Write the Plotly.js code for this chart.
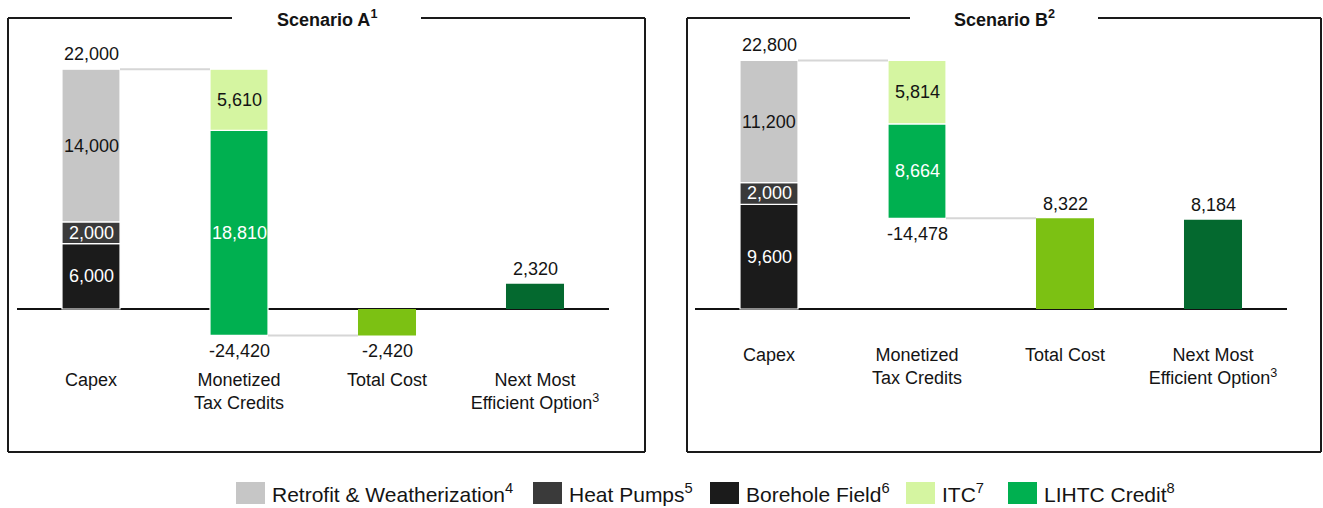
<!DOCTYPE html>
<html><head><meta charset="utf-8">
<script src="https://cdn.plot.ly/plotly-3.0.1.min.js"></script>
<style>html,body{margin:0;padding:0;background:#fff;}#chart{width:1323px;height:508px;}</style>
</head><body><div id="chart"></div>
<script>
// ---------------- data ----------------
const categories = ["Capex", "Monetized<br>Tax Credits", "Total Cost", "Next Most<br>Efficient Option<sup>3</sup>"];
const scenarioNames = ["Scenario A", "Scenario B"];
const scenarioNotes = [1, 2];
const capexSeries = ["Borehole Field", "Heat Pumps", "Retrofit & Weatherization"];
const creditSeries = ["LIHTC Credit", "ITC"];
const legendSeries = ["Retrofit & Weatherization", "Heat Pumps", "Borehole Field", "ITC", "LIHTC Credit"];
const legendNotes = [4, 5, 6, 7, 8];
const capexA = [6000, 2000, 14000];
const creditsA = [18810, 5610];
const totalA = -2420;
const nextA = 2320;
const capexB = [9600, 2000, 11200];
const creditsB = [8664, 5814];
const totalB = 8322;
const nextB = 8184;

// ---------------- styles ----------------
const FONT = "Liberation Sans, Arial, Helvetica, sans-serif";
const TXT = "#141414";
const colors = {
  "Retrofit & Weatherization": "#c6c6c6",
  "Heat Pumps": "#3a3a3a",
  "Borehole Field": "#1b1b1b",
  "ITC": "#d5f5a1",
  "LIHTC Credit": "#00b050"
};
const insideText = {
  "Retrofit & Weatherization": TXT,
  "Heat Pumps": "#ffffff",
  "Borehole Field": "#ffffff",
  "ITC": TXT,
  "LIHTC Credit": "#ffffff"
};
const totalColor = "#7cc113";
const nextColor = "#04692f";
const connColor = "#d6d6d6";
const W = 0.392;
const W_PX = 1323, H_PX = 508;
const fmt = v => v.toLocaleString("en-US");
const sum = a => a.reduce((s, v) => s + v, 0);

const annotations = [];
function label(xa, ya, x, y, v, color, shift) {
  annotations.push({xref: xa, yref: ya, x: x, y: y, text: fmt(v), showarrow: false,
    xanchor: "center", yanchor: "middle", yshift: shift,
    font: {family: FONT, size: 18, color: color}});
}

function panel(capex, credits, total, next, xa, ya) {
  const t = [];
  const common = {xaxis: xa, yaxis: ya, hoverinfo: "skip", showlegend: false};
  const xr = xa, yr = ya;
  let base = 0;
  capex.forEach((v, i) => {
    const name = capexSeries[i];
    t.push(Object.assign({type: "bar", name: name, x: [0], y: [v], base: [base], width: W,
      marker: {color: colors[name], line: {color: "#ffffff", width: 1.2}}}, common));
    label(xr, yr, 0, base + v / 2, v, insideText[name], 0);
    base += v;
  });
  const capexTotal = base;
  const creditTotal = sum(credits);
  let cb = capexTotal - creditTotal;
  credits.forEach((v, i) => {
    const name = creditSeries[i];
    t.push(Object.assign({type: "bar", name: name, x: [1], y: [v], base: [cb], width: W,
      marker: {color: colors[name], line: {color: "#ffffff", width: 1.2}}}, common));
    label(xr, yr, 1, cb + v / 2, v, insideText[name], 0);
    cb += v;
  });
  t.push(Object.assign({type: "bar", name: "Total Cost", x: [2], y: [total], width: W,
    marker: {color: totalColor, line: {width: 0}}}, common));
  t.push(Object.assign({type: "bar", name: "Next Most Efficient Option", x: [3], y: [next], width: W,
    marker: {color: nextColor, line: {width: 0}}}, common));
  // connectors
  t.push(Object.assign({type: "scatter", mode: "lines", x: [W / 2, 1 - W / 2], y: [capexTotal, capexTotal],
    line: {color: connColor, width: 2}}, common));
  t.push(Object.assign({type: "scatter", mode: "lines", x: [1 + W / 2, 2 - W / 2], y: [total, total],
    line: {color: connColor, width: 2}}, common));
  // outside labels
  label(xr, yr, 0, capexTotal, capexTotal, TXT, 15);
  label(xr, yr, 1, capexTotal - creditTotal, -creditTotal, TXT, -16);
  label(xr, yr, 2, total, total, TXT, total < 0 ? -16 : 14);
  label(xr, yr, 3, next, next, TXT, 15);
  return t;
}

const traces = [].concat(
  panel(capexA, creditsA, totalA, nextA, "x", "y"),
  panel(capexB, creditsB, totalB, nextB, "x2", "y2")
);

// ---------------- layout ----------------
const px = v => v / W_PX;
const py = v => 1 - v / H_PX;
const shapes = [];
const boxLine = {color: "#1a1a1a", width: 2};
function box(l, r, top, bot, gl, gr) {
  const seg = (x0, y0, x1, y1) => shapes.push({type: "line", xref: "paper", yref: "paper",
    x0: px(x0), y0: py(y0), x1: px(x1), y1: py(y1), line: boxLine});
  seg(l, top, gl, top); seg(gr, top, r, top);
  seg(l, top, l, bot); seg(r, top, r, bot); seg(l, bot, r, bot);
}
box(8, 645, 18, 452, 232, 421);
box(687, 1321, 18, 452, 910, 1098);
[[326.5, 0], [1004, 1]].forEach(([cx, i]) => annotations.push({xref: "paper", yref: "paper",
  x: px(cx), y: py(18), xanchor: "center", yanchor: "middle", showarrow: false,
  text: "<b>" + scenarioNames[i] + "<sup>" + scenarioNotes[i] + "</sup></b>",
  font: {family: FONT, size: 18, color: TXT}}));

// legend
const legSq = [236, 533, 710, 906, 1008];
legendSeries.forEach((name, i) => {
  shapes.push({type: "rect", xref: "paper", yref: "paper", x0: px(legSq[i]), x1: px(legSq[i] + 29),
    y0: py(504), y1: py(482), fillcolor: colors[name], line: {width: 0}});
  annotations.push({xref: "paper", yref: "paper", x: px(legSq[i] + 34), y: py(493),
    xanchor: "left", yanchor: "middle", showarrow: false,
    text: name.replace("&", "&amp;") + "<sup>" + legendNotes[i] + "</sup>",
    font: {family: FONT, size: 21, color: TXT}});
});

const yDom = [1 - 439.8 / H_PX, 1 - 31.05 / H_PX];
const xAxisBase = {range: [-0.5, 3.5], tickvals: [0, 1, 2, 3], ticktext: categories, ticks: "",
  showgrid: false, zeroline: false, showline: false, anchor: "free", fixedrange: true,
  tickfont: {family: FONT, size: 18, color: TXT}};
const yAxisBase = {range: [-12000, 25500], domain: yDom, showgrid: false, showticklabels: false,
  zeroline: true, zerolinecolor: "#111111", zerolinewidth: 1.5, ticks: "", fixedrange: true};

const layout = {
  width: W_PX, height: H_PX, margin: {l: 0, r: 0, t: 0, b: 0},
  paper_bgcolor: "#ffffff", plot_bgcolor: "rgba(0,0,0,0)",
  barmode: "overlay", showlegend: false,
  font: {family: FONT, size: 18, color: TXT},
  xaxis: Object.assign({}, xAxisBase, {domain: [px(17), px(609)], position: py(367)}),
  xaxis2: Object.assign({}, xAxisBase, {domain: [px(695), px(1287)], position: py(342)}),
  yaxis: Object.assign({}, yAxisBase, {anchor: "x"}),
  yaxis2: Object.assign({}, yAxisBase, {anchor: "x2"}),
  shapes: shapes, annotations: annotations
};

Plotly.newPlot("chart", traces, layout, {displayModeBar: false, staticPlot: true});
</script>
</body></html>
